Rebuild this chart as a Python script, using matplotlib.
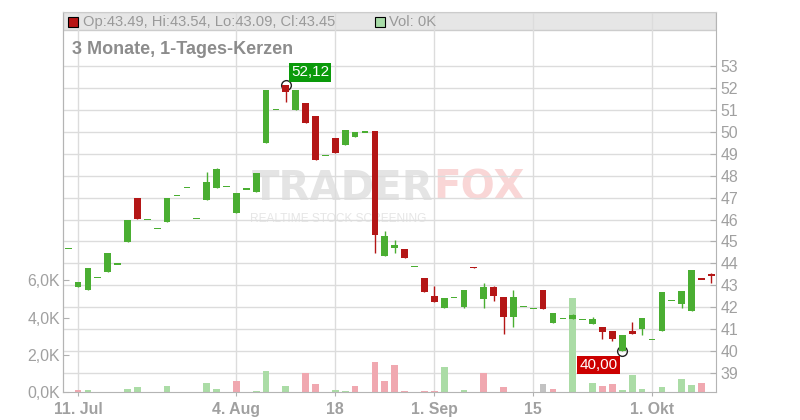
import numpy as np
import matplotlib
matplotlib.use("Agg")
import matplotlib.pyplot as plt
from matplotlib.patches import Rectangle

plt.rcParams['font.family'] = ['Liberation Sans', 'DejaVu Sans']

# daily candles, 10 Jul .. 9 Oct (trading days)
opens = [44.69, 42.94, 42.79, 43.36, 43.62, 43.97, 44.99, 46.98, 46.01, 45.60,
         45.90, 47.10, 47.47, 46.05, 46.90, 47.45, 47.51, 46.30, 47.39, 47.27,
         49.50, 51.02, 52.12, 50.99, 51.31, 50.72, 48.93, 49.72, 49.41, 49.78,
         49.99, 50.04, 44.35, 44.72, 44.66, 43.87, 43.33, 42.51, 41.98, 42.45,
         42.03, 43.84, 42.36, 42.91, 42.47, 41.57, 42.04, 41.93, 42.79, 41.30,
         41.49, 41.48, 41.45, 41.22, 41.08, 40.92, 40.00, 40.92, 41.01, 40.54,
         40.93, 42.32, 42.16, 41.84, 43.31, 43.49]
closes = [44.69, 43.15, 43.79, 43.36, 44.47, 43.97, 45.98, 46.04, 46.01, 45.60,
          46.98, 47.10, 47.47, 46.05, 47.71, 48.30, 47.51, 47.21, 47.39, 48.12,
          51.91, 51.02, 51.83, 51.91, 50.42, 48.73, 48.93, 49.05, 50.08, 49.99,
          49.99, 45.31, 45.25, 44.85, 44.26, 43.87, 42.71, 42.24, 42.42, 42.45,
          42.79, 43.78, 42.91, 42.53, 41.57, 42.47, 42.04, 41.93, 41.93, 41.74,
          41.49, 41.65, 41.45, 41.46, 40.86, 40.56, 40.73, 40.80, 41.51, 40.54,
          42.69, 42.32, 42.74, 43.70, 43.27, 43.45]
highs = [44.69, 43.15, 43.79, 43.36, 44.47, 43.97, 45.98, 46.98, 46.01, 45.60,
         46.98, 47.10, 47.47, 46.05, 48.17, 48.36, 47.51, 47.21, 47.39, 48.12,
         51.91, 51.02, 52.12, 51.91, 51.31, 50.72, 48.93, 49.72, 50.08, 49.99,
         49.99, 50.04, 45.48, 45.07, 44.66, 43.87, 43.33, 42.97, 42.42, 42.45,
         42.79, 43.84, 43.09, 42.97, 42.47, 42.79, 42.04, 41.93, 42.79, 41.74,
         41.49, 41.70, 41.45, 41.55, 41.08, 40.92, 40.73, 41.33, 41.51, 40.54,
         42.69, 42.32, 42.74, 43.70, 43.31, 43.54]
lows = [44.69, 42.94, 42.79, 43.36, 43.62, 43.97, 44.99, 46.04, 46.01, 45.60,
        45.90, 47.10, 47.47, 46.05, 46.90, 47.45, 47.51, 46.30, 47.39, 47.27,
        49.50, 51.02, 51.37, 50.99, 50.42, 48.73, 48.93, 49.05, 49.41, 49.78,
        49.99, 44.49, 44.35, 44.49, 44.26, 43.87, 42.71, 42.24, 41.98, 42.45,
        41.98, 43.78, 41.96, 42.30, 40.77, 41.11, 42.04, 41.93, 41.93, 41.30,
        41.49, 41.48, 41.45, 41.22, 40.54, 40.47, 40.00, 40.80, 40.75, 40.54,
        40.93, 42.32, 41.98, 41.84, 43.27, 43.09]
# volume in thousands
volumes = [0, 0.125, 0.125, 0, 0, 0, 0.18, 0.29, 0, 0,
           0.34, 0, 0, 0, 0.50, 0.18, 0, 0.61, 0, 0.07,
           1.14, 0, 0.34, 0, 1.04, 0.45, 0, 0.125, 0.07, 0.34,
           0, 1.63, 0.61, 1.47, 0.07, 0, 0.07, 0.07, 1.36, 0,
           0.125, 0, 1.04, 0, 0.27, 0, 0, 0, 0.43, 0.16,
           0, 5.04, 0, 0.48, 0.32, 0.43, 0.11, 0.91, 0.16, 0,
           0.27, 0, 0.70, 0.38, 0.48, 0]

tick_idx = [1, 17, 27, 37, 47, 59]
tick_labels = ['11. Jul', '4. Aug', '18', '1. Sep', '15', '1. Okt']
price_ticks = list(range(39, 54))
vol_ticks = [0, 2, 4, 6]
vol_tick_labels = ['0,0K', '2,0K', '4,0K', '6,0K']

GREEN, RED = '#4aae32', '#b41616'
VGREEN, VRED, VGREY = '#abdca6', '#f0a8b0', '#c2c2c2'
TXT = '#a0a0a0'

W, H = 800, 420


def fx(px):
    return px / W


def fy(py):
    return 1 - py / H


o = np.array(opens)
c = np.array(closes)
hi = np.array(highs)
lo = np.array(lows)
vol = np.array(volumes)
idx = np.arange(len(o))

ymin, ymax = 38.134, 55.462
k = 18.6 / 21.93  # price units per 1K volume

fig = plt.figure(figsize=(8, 4.2), dpi=100)
ax = fig.add_axes([fx(63), fy(392), 653 / W, 380 / H])
ax.set_xlim(-0.52, 65.47)
ax.set_ylim(ymin, ymax)

# header band
ax.add_patch(Rectangle((0, 362 / 380), 1, 18 / 380, transform=ax.transAxes,
                       fc='#e6e6e6', ec='#cccccc', lw=1, zorder=0.2))

# watermark
ax.text(fx(433), fy(189), 'TRADER', transform=fig.transFigure, ha='right', va='center',
        fontsize=29, fontweight='bold', color='#e4e4e4', family='DejaVu Sans', zorder=0.3)
ax.text(fx(433), fy(189), 'FOX', transform=fig.transFigure, ha='left', va='center',
        fontsize=29, fontweight='bold', color='#f9d6d6', family='DejaVu Sans', zorder=0.3)
ax.text(fx(250), fy(219), 'REALTIME STOCK SCREENING', transform=fig.transFigure,
        ha='left', va='center', fontsize=8.6, color='#e6e6e6', zorder=0.3)

# volume bars, coloured by change of close
diff = np.round(np.diff(np.concatenate([[c[0]], c])), 2)
vcol = np.where(diff > 0, VGREEN, np.where(diff < 0, VRED, VGREY))
ax.bar(idx, vol * k, bottom=ymin, width=0.68, color=vcol, lw=0, zorder=1)

# candles
col = np.where(c < o, RED, GREEN)
ax.vlines(idx, lo, hi, colors=col, lw=1, zorder=3)
body = np.abs(c - o)
flat = body < 0.06
bottom = np.where(flat, (o + c) / 2 - 0.03, np.minimum(o, c))
height = np.where(flat, 0.06, body)
ax.bar(idx, height, bottom=bottom, width=0.68, color=col, lw=0, zorder=3)

# max / min markers
imax, imin = int(np.argmax(hi)), int(np.argmin(lo))
ax.plot([imax, imin], [hi[imax], lo[imin]], 'o', ms=7, mfc='none', mec='#222222',
        mew=1, zorder=2.5)
ax.annotate(f'{hi[imax]:.2f}'.replace('.', ','), xy=(imax, hi[imax]), xytext=(5, 6),
            textcoords='offset pixels', ha='left', va='bottom', color='white', fontsize=11,
            bbox=dict(boxstyle='square,pad=0.15', fc='#0a9a0a', ec='none'), zorder=6)
ax.annotate(f'{lo[imin]:.2f}'.replace('.', ','), xy=(imin, lo[imin]), xytext=(-5, -7),
            textcoords='offset pixels', ha='right', va='top', color='white', fontsize=11,
            bbox=dict(boxstyle='square,pad=0.15', fc='#cc0000', ec='none'), zorder=6)

# axes styling
ax.set_xticks(tick_idx)
ax.set_xticklabels(tick_labels)
ax.set_yticks(price_ticks)
ax.grid(True, color='#dcdcdc', lw=1)
ax.set_axisbelow(True)
ax.yaxis.tick_right()
ax.tick_params(axis='y', direction='in', length=4, color='#b0b0b0', labelsize=11.4,
               labelcolor=TXT, pad=3)
ax.tick_params(axis='x', direction='out', length=3, color='#b0b0b0', labelsize=11.4,
               labelcolor=TXT, pad=4)
for lbl in ax.get_xticklabels():
    lbl.set_fontweight('bold')
for s in ax.spines.values():
    s.set_color('#b4b4b4')
ax.spines['top'].set_color('#cccccc')

secax = ax.secondary_yaxis('left', functions=(lambda p: (p - ymin) / k,
                                               lambda v: v * k + ymin))
secax.set_yticks(vol_ticks)
secax.set_yticklabels(vol_tick_labels)
secax.tick_params(direction='in', length=4, color='#b0b0b0', labelsize=11.4,
                  labelcolor=TXT, pad=2)
secax.spines['left'].set_color('#b4b4b4')

# header texts
fig.add_artist(Rectangle((fx(68), fy(27)), 10 / W, 10 / H, transform=fig.transFigure,
                         fc='#b81414', ec='black', lw=0.8))
fig.text(fx(83), fy(22), 'Op:43.49, Hi:43.54, Lo:43.09, Cl:43.45', va='center',
         fontsize=10.6, color='#999999')
fig.add_artist(Rectangle((fx(375), fy(27)), 10 / W, 10 / H, transform=fig.transFigure,
                         fc='#a8dca8', ec='black', lw=0.8))
fig.text(fx(389), fy(22), 'Vol: 0K', va='center', fontsize=10.6, color='#999999')
fig.text(fx(72), fy(54), '3 Monate, 1-Tages-Kerzen', va='baseline', fontsize=13,
         fontweight='bold', color='#8c8c8c')

fig.savefig('out.png', dpi=100)
